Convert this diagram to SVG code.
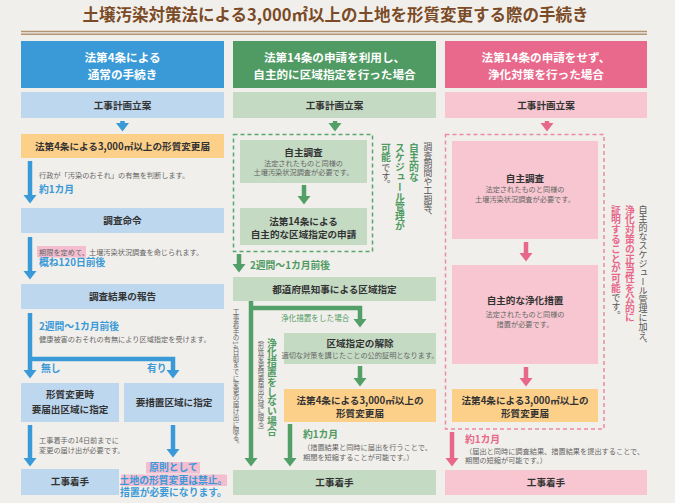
<svg xmlns="http://www.w3.org/2000/svg" width="675" height="503" viewBox="0 0 675 503">
<defs>
<style>
text{font-family:"Noto Sans CJK JP","Noto Sans",sans-serif}
.hd{fill:#fff;font-size:11.6px;font-weight:700;text-anchor:middle}
.lb{fill:#333;font-size:9.6px;font-weight:700;text-anchor:middle}
.sm{fill:#666;font-size:7.2px}
.smc{fill:#666;font-size:7.2px;text-anchor:middle}
.bt{fill:#3a9ad8;font-weight:700;font-size:9.8px}
.gt{fill:#4f9b63;font-weight:700;font-size:9.8px}
.pt{fill:#e8688a;font-weight:700;font-size:9.8px}
.vt{writing-mode:vertical-rl}
.lnb{stroke:#3a9ad8;stroke-width:4.5;fill:none;marker-end:url(#mb)}
.lng{stroke:#52a067;stroke-width:4.5;fill:none;marker-end:url(#mg)}
.lnp{stroke:#e8688a;stroke-width:4.5;fill:none;marker-end:url(#mp)}
.bh{fill:#3a9ad8}.bl{fill:#bdd7ef}
.gh{fill:#4f9b63}.gl{fill:#c4dac3}
.ph{fill:#e8698b}.pl{fill:#f7c6d0}
.or{fill:#fdd08a}
</style>
<marker id="mb" markerUnits="userSpaceOnUse" viewBox="0 -7 9 14" markerWidth="9" markerHeight="14" refX="0.5" refY="0" orient="auto"><path d="M0,-6.5L8.5,0L0,6.5Z" fill="#3a9ad8"/></marker>
<marker id="mg" markerUnits="userSpaceOnUse" viewBox="0 -7 9 14" markerWidth="9" markerHeight="14" refX="0.5" refY="0" orient="auto"><path d="M0,-6.5L8.5,0L0,6.5Z" fill="#52a067"/></marker>
<marker id="mp" markerUnits="userSpaceOnUse" viewBox="0 -7 9 14" markerWidth="9" markerHeight="14" refX="0.5" refY="0" orient="auto"><path d="M0,-6.5L8.5,0L0,6.5Z" fill="#e8688a"/></marker>
</defs>
<rect width="675" height="503" fill="#f1efeb"/>
<g id="title">
<text x="335.5" y="21" text-anchor="middle" font-size="16.5" font-weight="700" fill="#7a4b26">土壌汚染対策法による3,000㎡以上の土地を形質変更する際の手続き</text>
<line x1="21" y1="31.5" x2="647" y2="31.5" stroke="#b39473" stroke-width="1.6"/>
<line x1="21" y1="34.3" x2="647" y2="34.3" stroke="#b39473" stroke-width="1.6"/>
</g>
<g id="connectors">
<line class="lnb" x1="122.5" y1="121" x2="122.5" y2="123.5"/>
<line class="lnb" x1="30" y1="161" x2="30" y2="195.5"/>
<line class="lnb" x1="30" y1="237" x2="30" y2="271.5"/>
<line class="lnb" x1="30" y1="313" x2="30" y2="370.5"/>
<path class="lnb" d="M30,359H173V370.5"/>
<line class="lnb" x1="30" y1="425" x2="30" y2="458.5"/>
<line class="lnb" x1="173" y1="425" x2="173" y2="449.5"/>
<line class="lng" x1="335" y1="121" x2="335" y2="123.5"/>
<line class="lng" x1="304" y1="185" x2="304" y2="196.5"/>
<line class="lng" x1="239" y1="254" x2="239" y2="264.5"/>
<line class="lng" x1="251" y1="301" x2="251" y2="458.5"/>
<path class="lng" d="M251,308H360V319.5"/>
<line class="lng" x1="360" y1="366" x2="360" y2="378.5"/>
<line class="lng" x1="290" y1="424" x2="290" y2="458.5"/>
<line class="lnp" x1="547" y1="121" x2="547" y2="123.5"/>
<line class="lnp" x1="526" y1="242" x2="526" y2="253.5"/>
<line class="lnp" x1="526" y1="367" x2="526" y2="378.5"/>
<line class="lnp" x1="452" y1="432" x2="452" y2="458.5"/>
</g>
<g id="blue-header"><rect class="bh" x="21" y="41" width="203" height="47"/><text class="hd" x="122.5" y="62">法第4条による</text><text class="hd" x="122.5" y="79">通常の手続き</text></g>
<g id="blue-plan"><rect class="bl" x="21" y="92" width="203" height="26"/><text class="lb" x="122.5" y="108.5">工事計画立案</text></g>
<g id="blue-notice"><rect class="or" x="21" y="134" width="203" height="24"/><text class="lb" x="122.5" y="149.6" font-size="10.3">法第4条による3,000㎡以上の形質変更届</text></g>
<g id="blue-note1"><text class="sm" x="39" y="177.5">行政が「汚染のおそれ」の有無を判断します。</text><text class="bt" x="39" y="193.4">約1カ月</text></g>
<g id="blue-order"><rect class="bl" x="21" y="208" width="203" height="25"/><text class="lb" x="122.5" y="224.3">調査命令</text></g>
<g id="blue-note2"><rect x="37" y="246" width="49" height="11.5" fill="#f4bdd0"/><text class="sm" x="39" y="254.5">期限を定めて、土壌汚染状況調査を命じられます。</text><text class="bt" x="39" y="266.4" font-size="10.2">概ね120日前後</text></g>
<g id="blue-report"><rect class="bl" x="21" y="284" width="203" height="25"/><text class="lb" x="122.5" y="300.3">調査結果の報告</text></g>
<g id="blue-note3"><text class="bt" x="39" y="330.3" font-size="9.4">2週間〜1カ月前後</text><text class="sm" x="39" y="341.8">健康被害のおそれの有無により区域指定を受けます。</text><text class="bt" x="41" y="372.3" font-size="9.4">無し</text><text class="bt" x="147" y="372.3" font-size="9.4">有り</text></g>
<g id="blue-zone1"><rect class="bl" x="21" y="383" width="98" height="39"/><text class="lb" x="70" y="398.3">形質変更時</text><text class="lb" x="70" y="413.3">要届出区域に指定</text></g>
<g id="blue-zone2"><rect class="bl" x="124" y="383" width="100" height="39"/><text class="lb" x="174" y="406.3">要措置区域に指定</text></g>
<g id="blue-note4"><text class="sm" x="39" y="442.5">工事着手の14日前までに</text><text class="sm" x="39" y="453">変更の届け出が必要です。</text></g>
<g id="blue-start"><rect class="bl" x="21" y="469" width="98" height="26"/><text class="lb" x="70" y="485.3">工事着手</text></g>
<g id="blue-ban"><rect x="146" y="462" width="54" height="11.5" fill="#f4bdd0"/><rect x="121" y="474.5" width="106" height="11.5" fill="#f4bdd0"/><text class="bt" x="173.5" y="471" font-size="9" text-anchor="middle">原則として</text><text class="bt" x="173.5" y="483.5" font-size="9" text-anchor="middle">土地の形質変更は禁止。</text><text class="bt" x="173.5" y="496" font-size="9" text-anchor="middle">措置が必要になります。</text></g>

<g id="green-header"><rect class="gh" x="233" y="41" width="203" height="47"/><text class="hd" x="334.5" y="61.5">法第14条の申請を利用し、</text><text class="hd" x="334.5" y="78.5">自主的に区域指定を行った場合</text></g>
<g id="green-plan"><rect class="gl" x="233" y="92" width="203" height="26"/><text class="lb" x="334.5" y="108.5">工事計画立案</text></g>
<rect x="233.5" y="134.5" width="139" height="117" fill="none" stroke="#5aa76e" stroke-width="1.5" stroke-dasharray="4 3"/>
<g id="green-survey"><rect class="gl" x="240" y="140" width="127" height="43"/><text class="lb" x="303.5" y="155.5" font-size="10">自主調査</text><text class="smc" x="303.5" y="165.8">法定されたものと同様の</text><text class="smc" x="303.5" y="175">土壌汚染状況調査が必要です。</text></g>
<g id="green-apply"><rect class="gl" x="240" y="208" width="127" height="37"/><text class="lb" x="303.5" y="225.3">法第14条による</text><text class="lb" x="303.5" y="238.3">自主的な区域指定の申請</text></g>
<g id="green-side"><text class="vt" x="428" y="142" fill="#555" font-size="8.8">調査期間や工期等、</text><text class="vt gt" x="414" y="143" font-size="11.5">自主的な</text><text class="vt gt" x="400" y="143" font-size="11.5">スケジュール管理が</text><text class="vt" x="386" y="143"><tspan class="gt" font-size="11.5">可能</tspan><tspan fill="#555" font-size="8.8">です。</tspan></text></g>
<text class="gt" x="250" y="269" font-size="9.4">2週間〜1カ月前後</text>
<g id="green-designate"><rect class="gl" x="233" y="277" width="203" height="24"/><text class="lb" x="334.5" y="292.5" font-size="10">都道府県知事による区域指定</text></g>
<text class="vt" x="236" y="308" fill="#666" font-size="6.6">工事着手の14日前までに変更の届け出に限る。</text>
<text x="281" y="320.5" fill="#4f9b63" font-size="7.6">浄化措置をした場合</text>
<text class="vt gt" x="272" y="338" font-size="10">浄化措置をしない場合</text>
<text class="vt" x="261" y="336" fill="#666" font-size="6.5">（形質変更時要届出区域に限る）</text>
<g id="green-release"><rect class="gl" x="284" y="333" width="152" height="31"/><text class="lb" x="360" y="346.5" font-size="10">区域指定の解除</text><text class="smc" x="360" y="358">適切な対策を講じたことの公的証明となります。</text></g>
<g id="green-notice"><rect class="or" x="284" y="389" width="152" height="33"/><text class="lb" x="360" y="403.5" font-size="10">法第4条による3,000㎡以上の</text><text class="lb" x="360" y="416.5" font-size="10">形質変更届</text></g>
<g id="green-note"><text class="gt" x="303" y="438">約1カ月</text><text class="sm" x="303" y="449.5">（措置結果と同時に届出を行うことで、</text><text class="sm" x="303" y="460">期間を短縮することが可能です。）</text></g>
<g id="green-start"><rect class="gl" x="233" y="470" width="203" height="25"/><text class="lb" x="334.5" y="486">工事着手</text></g>

<g id="pink-header"><rect class="ph" x="445" y="41" width="202" height="47"/><text class="hd" x="546" y="61.5">法第14条の申請をせず、</text><text class="hd" x="546" y="78.5">浄化対策を行った場合</text></g>
<g id="pink-plan"><rect class="pl" x="445" y="92" width="202" height="26"/><text class="lb" x="546" y="108.5">工事計画立案</text></g>
<rect x="445.5" y="134.5" width="158.5" height="294.5" fill="none" stroke="#eb8aa5" stroke-width="1.5" stroke-dasharray="4 3"/>
<g id="pink-survey"><rect class="pl" x="452" y="141" width="146" height="98"/><text class="lb" x="525" y="181.5" font-size="10">自主調査</text><text class="smc" x="525" y="192">法定されたものと同様の</text><text class="smc" x="525" y="201.5">土壌汚染状況調査が必要です。</text></g>
<g id="pink-clean"><rect class="pl" x="452" y="265" width="146" height="99"/><text class="lb" x="525" y="303.5" font-size="10">自主的な浄化措置</text><text class="smc" x="525" y="316.5">法定されたものと同様の</text><text class="smc" x="525" y="326.5">措置が必要です。</text></g>
<g id="pink-notice"><rect class="or" x="452" y="389" width="146" height="33"/><text class="lb" x="525" y="403.5" font-size="10">法第4条による3,000㎡以上の</text><text class="lb" x="525" y="416.5" font-size="10">形質変更届</text></g>
<g id="pink-side"><text class="vt" x="643" y="205" fill="#555" font-size="9">自主的なスケジュール管理に加え、</text><text class="vt pt" x="630" y="205" font-size="11.5">浄化対策の正当性を公的に</text><text class="vt" x="616" y="205"><tspan class="pt" font-size="11.5">証明することが可能</tspan><tspan fill="#555" font-size="9">です。</tspan></text></g>
<g id="pink-note"><text class="pt" x="465" y="442.5">約1カ月</text><text class="sm" x="465" y="453.5">（届出と同時に調査結果、措置結果を提出することで、</text><text class="sm" x="465" y="462.5">期間の短縮が可能です。）</text></g>
<g id="pink-start"><rect class="pl" x="445" y="470" width="202" height="25"/><text class="lb" x="546" y="486">工事着手</text></g>
</svg>
